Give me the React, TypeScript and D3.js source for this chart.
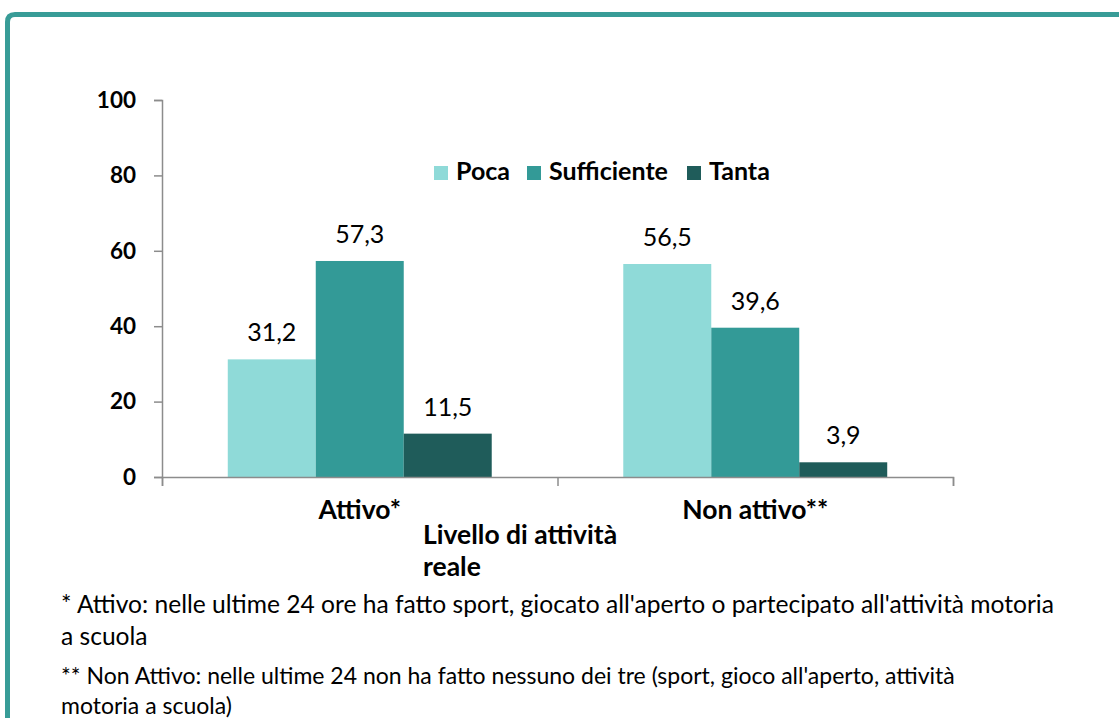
import { useEffect, useRef } from "react"
import * as d3 from "d3"

const categories = ["Attivo*", "Non attivo**"]
const series = ["Poca", "Sufficiente", "Tanta"]
const poca = [31.2, 56.5]
const sufficiente = [57.3, 39.6]
const tanta = [11.5, 3.9]
const yTicks = [0, 20, 40, 60, 80, 100]
const colors = ["#8fdad8", "#339a97", "#1f5c5a"]
const axisTitle = ["Livello di attività", "reale"]
const notes = [
  "* Attivo: nelle ultime 24 ore ha fatto sport, giocato all'aperto o partecipato all'attività motoria",
  "a scuola",
  "** Non Attivo: nelle ultime 24 non ha fatto nessuno dei tre (sport, gioco all'aperto, attività",
  "motoria a scuola)",
]

const FONT = "Lato, 'Open Sans', sans-serif"

export default function App() {
  const svgRef = useRef<SVGSVGElement | null>(null)

  useEffect(() => {
    const svg = d3.select(svgRef.current)
    svg.selectAll("*").remove()

    const width = 1119
    const height = 718
    const plot = { left: 162, right: 953, top: 100, bottom: 477 }

    svg.attr("width", width).attr("height", height).style("font-family", FONT)

    svg.append("rect").attr("width", width).attr("height", height).attr("fill", "#fff")

    // teal frame (only top and left edges are visible)
    svg.append("path")
      .attr("d", "M7.5,760 L7.5,22 Q7.5,14.5 15,14.5 L1200,14.5")
      .attr("fill", "none")
      .attr("stroke", "#389c97")
      .attr("stroke-width", 5)

    const values = [poca, sufficiente, tanta]

    const x0 = d3.scaleBand<string>()
      .domain(categories)
      .range([plot.left, plot.right])

    const bw = x0.bandwidth()
    const gap = bw * 0.1663
    const x1 = d3.scaleBand<string>()
      .domain(series)
      .range([gap, bw - gap])

    const y = d3.scaleLinear()
      .domain([0, 100])
      .range([plot.bottom, plot.top])

    // bars + value labels
    categories.forEach((c, ci) => {
      const g = svg.append("g").attr("transform", `translate(${x0(c)},0)`)
      series.forEach((s, si) => {
        const v = values[si][ci]
        g.append("rect")
          .attr("x", x1(s)!)
          .attr("y", y(v))
          .attr("width", x1.bandwidth())
          .attr("height", y(0) - y(v))
          .attr("fill", colors[si])
        g.append("text")
          .attr("x", x1(s)! + x1.bandwidth() / 2)
          .attr("y", y(v) - 18)
          .attr("text-anchor", "middle")
          .attr("font-size", 25)
          .attr("fill", "#000")
          .text(String(v).replace(".", ","))
      })
    })

    // y axis
    const yAxis = svg.append("g")
      .attr("transform", `translate(${plot.left},0)`)
      .call(d3.axisLeft(y).tickValues(yTicks).tickSize(8).tickPadding(18))
    yAxis.selectAll("path, line").attr("stroke", "#8c8c8c").attr("stroke-width", 1.5)
    yAxis.selectAll("text")
      .attr("font-size", 22.5)
      .attr("font-weight", "bold")
      .attr("font-family", FONT)
      .attr("fill", "#000")

    // x axis, ticks at the band edges
    const xEdges = d3.scaleLinear().domain([0, categories.length]).range([plot.left, plot.right])
    const xAxis = svg.append("g")
      .attr("transform", `translate(0,${plot.bottom})`)
      .call(d3.axisBottom(xEdges).tickValues(d3.range(categories.length + 1)).tickSize(9).tickSizeOuter(9).tickFormat(() => ""))
    xAxis.selectAll("path, line").attr("stroke", "#8c8c8c").attr("stroke-width", 1.5)

    categories.forEach(c => {
      svg.append("text")
        .attr("x", x0(c)! + bw / 2)
        .attr("y", 519)
        .attr("text-anchor", "middle")
        .attr("font-size", 26.5)
        .attr("font-weight", "bold")
        .text(c)
    })

    axisTitle.forEach((t, i) => {
      svg.append("text")
        .attr("x", 423)
        .attr("y", 544 + i * 32)
        .attr("font-size", 26.5)
        .attr("font-weight", "bold")
        .text(t)
    })

    // legend
    const legendX = [434, 527, 687]
    series.forEach((s, i) => {
      svg.append("rect")
        .attr("x", legendX[i])
        .attr("y", 166)
        .attr("width", 14)
        .attr("height", 14)
        .attr("fill", colors[i])
      svg.append("text")
        .attr("x", legendX[i] + 22)
        .attr("y", 180)
        .attr("font-size", 25)
        .attr("font-weight", "bold")
        .text(s)
    })

    // footnotes
    const noteY = [613, 645, 684, 714]
    const noteSize = [24.6, 24.6, 23, 23]
    notes.forEach((t, i) => {
      svg.append("text")
        .attr("x", 61)
        .attr("y", noteY[i])
        .attr("font-size", noteSize[i])
        .text(t)
    })
  }, [])

  return (
    <svg
      ref={svgRef}
      style={{ position: "absolute", left: 0, top: 0, display: "block" }}
    />
  )
}
